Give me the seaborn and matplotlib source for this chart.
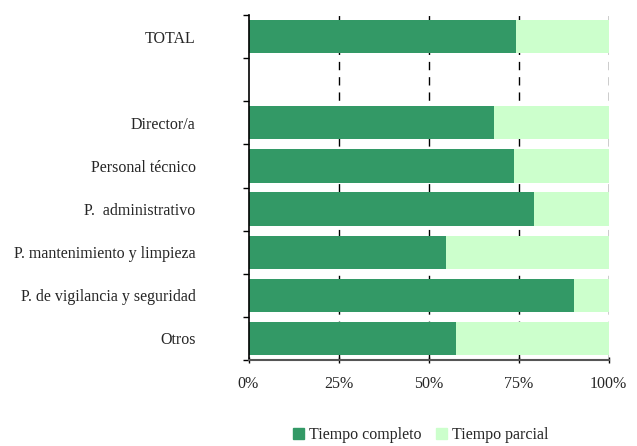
import pandas as pd
import matplotlib.pyplot as plt
import seaborn as sns
from matplotlib.patches import Patch

sns.set_style("white")
plt.rcParams['font.family'] = ['Liberation Serif', 'DejaVu Serif']

# datos (% tiempo completo; el resto es tiempo parcial)
categorias = ["TOTAL", " ", "Director/a", "Personal técnico", "P.  administrativo",
              "P. mantenimiento y limpieza", "P. de vigilancia y seguridad", "Otros"]
completo = [74.3, None, 68.2, 73.8, 79.3, 54.9, 90.4, 57.6]
total = [100, None, 100, 100, 100, 100, 100, 100]
ticks_x = [0, 25, 50, 75, 100]
etiquetas_x = ["0%", "25%", "50%", "75%", "100%"]

verde = "#339966"
verde_claro = "#CCFFCC"

df = pd.DataFrame({"cat": categorias, "completo": completo, "total": total}).dropna()

fig = plt.figure(figsize=(6.37, 4.46), dpi=100)
ax = fig.add_axes([248.5 / 637, 1 - 360 / 446, 360 / 637, 345 / 446])

for x in [25, 50, 75, 100]:
    ax.axvline(x, color="black", lw=1, ls=(0, (6, 5)), zorder=0)

sns.barplot(data=df, y="cat", x="total", order=categorias, color=verde_claro,
            width=0.77, saturation=1, linewidth=0, ax=ax, zorder=2)
sns.barplot(data=df, y="cat", x="completo", order=categorias, color=verde,
            width=0.77, saturation=1, linewidth=0, ax=ax, zorder=3)

ax.set_xlim(0, 100)
ax.set_ylim(len(categorias) - 0.5, -0.5)
ax.set_xticks(ticks_x)
ax.set_xticklabels(etiquetas_x, fontsize=11.5)
ax.set_xlabel("")
ax.set_ylabel("")

ax.set_yticks(range(len(categorias)))
ax.set_yticklabels(categorias, fontsize=11.5)
ax.set_yticks([i - 0.5 for i in range(len(categorias) + 1)], minor=True)
ax.tick_params(axis="y", which="major", length=0, pad=38)
ax.tick_params(axis="y", which="minor", length=4, width=1, color="black", direction="out", left=True)
ax.tick_params(axis="x", length=5, width=1, color="black", direction="inout", bottom=True, pad=9)

for s in ["top", "right"]:
    ax.spines[s].set_visible(False)
ax.spines["left"].set_color("black")
ax.spines["left"].set_linewidth(1.2)
ax.spines["bottom"].set_color("#555555")
ax.spines["bottom"].set_linewidth(1.5)
for s in ["left", "bottom"]:
    ax.spines[s].set_zorder(5)

handles = [Patch(color=verde, label="Tiempo completo"),
           Patch(color=verde_claro, label="Tiempo parcial")]
fig.legend(handles=handles, loc="lower center", bbox_to_anchor=(0.66, -0.025), ncol=2,
           frameon=False, fontsize=11.5, handlelength=0.7, handleheight=0.7,
           handletextpad=0.3, columnspacing=0.9)

fig.savefig("out.png", dpi=100)
